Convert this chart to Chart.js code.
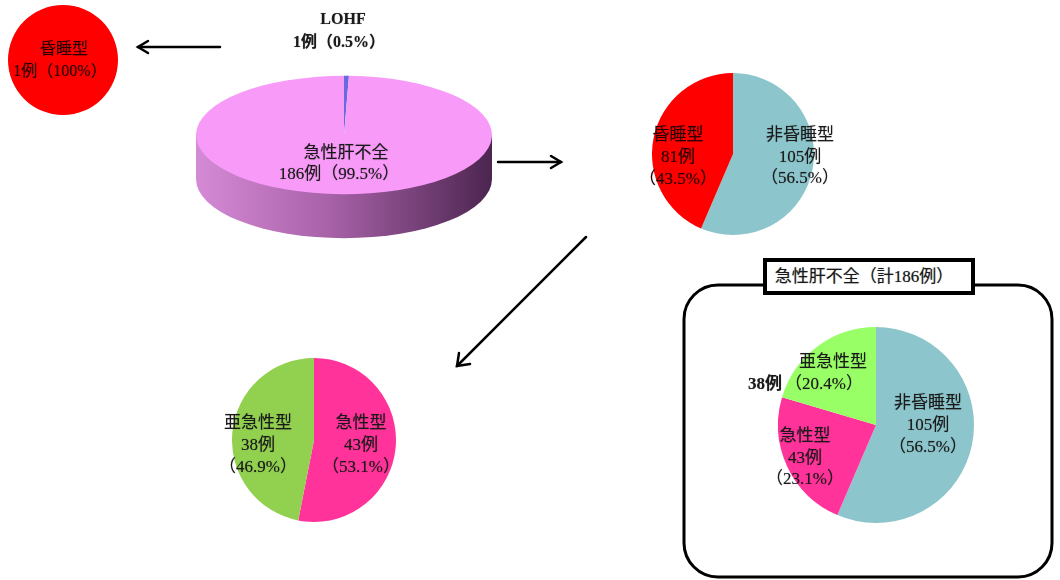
<!DOCTYPE html>
<html>
<head>
<meta charset="utf-8">
<script src="https://cdn.jsdelivr.net/npm/chart.js@4.4.0/dist/chart.umd.min.js"></script>
<style>
  body { margin: 0; background: #fff; }
  #stage { position: relative; width: 1060px; height: 580px; overflow: hidden; }
  canvas { position: absolute; }
  svg { position: absolute; left: 0; top: 0; }
  .lbl {
    position: absolute;
    transform: translate(-50%, -50%);
    text-align: center;
    white-space: nowrap;
    font-family: "Liberation Serif", "Noto Sans CJK JP", serif;
    font-size: 17px;
    line-height: 23px;
    color: #1a1a1a;
    text-shadow: 0 0 1px rgba(0, 0, 0, 0.45);
  }
</style>
</head>
<body>
<div id="stage">
  <svg width="1060" height="580">
    <g stroke="#000" stroke-width="2.5" fill="none" stroke-linecap="round">
      <line x1="220" y1="47" x2="138" y2="47"/>
      <polyline points="148,41 138,47 148,53"/>
      <line x1="498" y1="162" x2="561" y2="162"/>
      <polyline points="551,156 561,162 551,168"/>
      <line x1="586" y1="237" x2="457" y2="366"/>
      <polyline points="459,353 457,366 470,364"/>
    </g>
    <rect x="684" y="285" width="368" height="292" rx="34" ry="34" fill="none" stroke="#000" stroke-width="3"/>
    <rect x="765" y="260" width="208" height="33" fill="#fff" stroke="#000" stroke-width="4"/>
  </svg>
  <canvas id="lohfPie" width="110" height="110" style="left:8px;top:5px;width:110px;height:110px"></canvas>
  <canvas id="topPie" width="296" height="296" style="left:196px;top:-13px;width:296px;height:296px"></canvas>
  <canvas id="comaPie" width="162" height="162" style="left:652px;top:73px;width:162px;height:162px"></canvas>
  <canvas id="subPie" width="164" height="164" style="left:232px;top:358px;width:164px;height:164px"></canvas>
  <canvas id="totalPie" width="196" height="196" style="left:778px;top:327px;width:196px;height:196px"></canvas>
</div>
<script>
// LOHF vs acute liver failure
const topLabels = ['LOHF', '急性肝不全'];
const topCounts = [1, 186];
// LOHF breakdown
const lohfLabels = ['昏睡型'];
const lohfCounts = [1];
// acute liver failure: coma / non-coma
const comaLabels = ['非昏睡型', '昏睡型'];
const comaCounts = [105, 81];
// coma type: acute / subacute
const subLabels = ['急性型', '亜急性型'];
const subCounts = [43, 38];
// acute liver failure total (186)
const totalLabels = ['非昏睡型', '急性型', '亜急性型'];
const totalCounts = [105, 43, 38];

const sum = arr => arr.reduce((a, b) => a + b, 0);
function pct(n, arr) {
    const p = n / sum(arr) * 100;
    return Number.isInteger(p) ? p + '%' : p.toFixed(1) + '%';
}

// squashes the pie into an ellipse and draws the side wall
const tilt = 0.4;
const depth = 44;
const tiltPlugin = {
    id: 'tilt3d',
    beforeDatasetsDraw(chart) {
        const arc = chart.getDatasetMeta(0).data[0];
        const x = arc.x, y = arc.y, r = arc.outerRadius;
        const ctx = chart.ctx;
        ctx.save();
        const g = ctx.createLinearGradient(x - r, 0, x + r, 0);
        g.addColorStop(0, '#d58ad5');
        g.addColorStop(0.45, '#a862a8');
        g.addColorStop(1, '#4c2550');
        ctx.beginPath();
        ctx.moveTo(x - r, y);
        ctx.lineTo(x - r, y + depth);
        ctx.ellipse(x, y + depth, r, r * tilt, 0, Math.PI, 0, true);
        ctx.lineTo(x + r, y);
        ctx.closePath();
        ctx.fillStyle = g;
        ctx.fill();
        ctx.restore();
        ctx.save();
        ctx.translate(x, y);
        ctx.scale(1, tilt);
        ctx.translate(-x, -y);
    },
    afterDatasetsDraw(chart) {
        chart.ctx.restore();
    }
};

function makePie(id, labels, data, colors, plugins) {
    return new Chart(document.getElementById(id), {
        type: 'pie',
        data: {
            labels: labels,
            datasets: [{ data: data, backgroundColor: colors, borderWidth: 0 }]
        },
        options: {
            responsive: false,
            animation: false,
            events: [],
            layout: { padding: 0 },
            plugins: { legend: { display: false }, tooltip: { enabled: false } }
        },
        plugins: plugins || []
    });
}

makePie('lohfPie', lohfLabels, lohfCounts, ['#ff0000']);
makePie('topPie', topLabels, topCounts, ['#6a6ae0', '#f89af8'], [tiltPlugin]);
makePie('comaPie', comaLabels, comaCounts, ['#8cc5cb', '#ff0000']);
makePie('subPie', subLabels, subCounts, ['#ff3399', '#92d050']);
makePie('totalPie', totalLabels, totalCounts, ['#8cc5cb', '#ff3399', '#99ff66']);

const stage = document.getElementById('stage');
function addLabel(x, y, lines, extra) {
    const d = document.createElement('div');
    d.className = 'lbl';
    d.style.left = x + 'px';
    d.style.top = y + 'px';
    if (extra) Object.assign(d.style, extra);
    d.innerHTML = lines.join('<br>');
    stage.appendChild(d);
}

// top
addLabel(343, 18, [topLabels[0]], { fontWeight: 'bold', fontSize: '16px' });
addLabel(339, 41, [topCounts[0] + '例（' + pct(topCounts[0], topCounts) + '）'], { fontWeight: 'bold', fontSize: '16px' });
addLabel(346, 152, [topLabels[1]]);
addLabel(339, 173, [topCounts[1] + '例（' + pct(topCounts[1], topCounts) + '）']);

// LOHF circle
addLabel(64, 48, [lohfLabels[0]], { color: '#2a0000', fontSize: '16px' });
addLabel(60, 70, [lohfCounts[0] + '例（' + pct(lohfCounts[0], lohfCounts) + '）'], { color: '#2a0000', fontSize: '16px' });

// coma / non-coma
addLabel(678, 157, [comaLabels[1], comaCounts[1] + '例', '（' + pct(comaCounts[1], comaCounts) + '）'], { lineHeight: '22px', color: '#2a0000' });
addLabel(800, 156, [comaLabels[0], comaCounts[0] + '例', '（' + pct(comaCounts[0], comaCounts) + '）'], { lineHeight: '21.5px' });

// acute / subacute
addLabel(258, 445, [subLabels[1], subCounts[1] + '例', '（' + pct(subCounts[1], subCounts) + '）'], { lineHeight: '22px' });
addLabel(361, 445, [subLabels[0], subCounts[0] + '例', '（' + pct(subCounts[0], subCounts) + '）'], { lineHeight: '22px' });

// boxed total
addLabel(864, 276, ['急性肝不全（計' + sum(totalCounts) + '例）']);
addLabel(928, 425, [totalLabels[0], totalCounts[0] + '例', '（' + pct(totalCounts[0], totalCounts) + '）'], { lineHeight: '22px' });
addLabel(805, 457, [totalLabels[1], totalCounts[1] + '例', '（' + pct(totalCounts[1], totalCounts) + '）'], { lineHeight: '21.5px' });
addLabel(833, 361, [totalLabels[2]]);
addLabel(765, 383, [totalCounts[2] + '例'], { fontWeight: 'bold' });
addLabel(824, 383, ['（' + pct(totalCounts[2], totalCounts) + '）']);
</script>
</body>
</html>
